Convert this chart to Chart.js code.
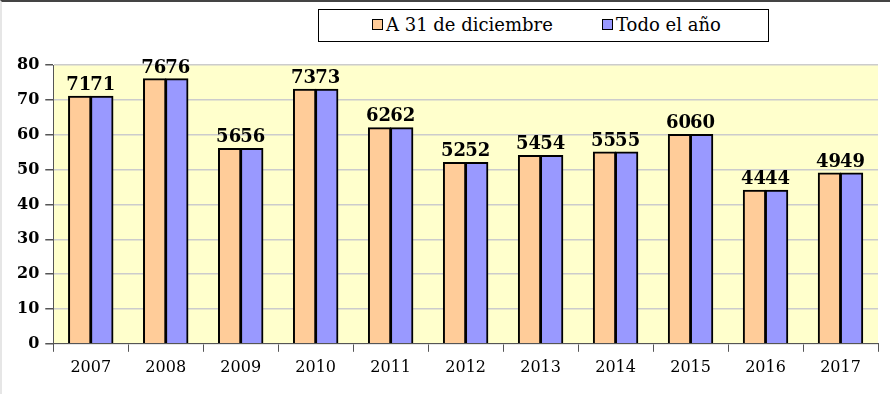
<!DOCTYPE html>
<html>
<head>
<meta charset="utf-8">
<script src="https://cdn.jsdelivr.net/npm/chart.js@4.4.1/dist/chart.umd.min.js"></script>
<style>
  html, body { margin: 0; padding: 0; background: #fff; overflow: hidden; }
  #wrap { position: relative; width: 888px; height: 392px; border-top: 2px solid #444; border-left: 2px solid #e6e6e6; }
  canvas { display: block; }
  #legend {
    position: absolute; left: 316px; top: 7px; width: 449px; height: 31px;
    border: 1px solid #000; background: #fff;
    font-family: "DejaVu Serif", "Liberation Serif", serif; font-size: 18px; color: #000;
  }
  .item { position: absolute; top: 4px; line-height: 22px; white-space: nowrap; }
  .sw { display: inline-block; width: 9px; height: 9px; border: 1.5px solid #000; margin-right: 3px; vertical-align: 1px; }
</style>
</head>
<body>
<div id="wrap">
  <canvas id="chart" width="888" height="392"></canvas>
  <div id="legend"></div>
</div>
<script>
const years = ["2007", "2008", "2009", "2010", "2011", "2012", "2013", "2014", "2015", "2016", "2017"];
const atDec31 = [71, 76, 56, 73, 62, 52, 54, 55, 60, 44, 49];
const wholeYear = [71, 76, 56, 73, 62, 52, 54, 55, 60, 44, 49];
const yTicks = [0, 10, 20, 30, 40, 50, 60, 70, 80];
const seriesNames = ["A 31 de diciembre", "Todo el año"];
const seriesColors = ["#FFCC99", "#9999FF"];

const FONT = "'DejaVu Serif', 'Liberation Serif', serif";

// legend (html, framed like the original)
const legend = document.getElementById("legend");
const itemLeft = [53, 283];
seriesNames.forEach((name, i) => {
  const it = document.createElement("div");
  it.className = "item";
  it.style.left = itemLeft[i] + "px";
  it.innerHTML = `<span class="sw" style="background:${seriesColors[i]}"></span>`;
  it.appendChild(document.createTextNode(name));
  legend.appendChild(it);
});

// yellow plot background
const plotBg = {
  id: "plotBg",
  beforeDraw(chart) {
    const { ctx, chartArea: a } = chart;
    ctx.save();
    ctx.fillStyle = "#FFFFCC";
    ctx.fillRect(a.left, a.top, a.right - a.left, a.bottom - a.top);
    ctx.restore();
  }
};

// value labels above the bars
const valueLabels = {
  id: "valueLabels",
  afterDraw(chart) {
    const ctx = chart.ctx;
    ctx.save();
    ctx.font = "bold 18px " + FONT;
    ctx.fillStyle = "#000";
    ctx.textAlign = "center";
    ctx.textBaseline = "bottom";
    chart.data.datasets.forEach((ds, i) => {
      chart.getDatasetMeta(i).data.forEach((bar, j) => {
        const dx = i === 0 ? -1 : 1;
        ctx.fillText(String(ds.data[j]), bar.x + dx, bar.y - 2);
      });
    });
    ctx.restore();
  }
};

new Chart(document.getElementById("chart"), {
  type: "bar",
  data: {
    labels: years,
    datasets: [
      {
        label: seriesNames[0],
        data: atDec31,
        backgroundColor: seriesColors[0],
        borderColor: "#000",
        borderWidth: 2,
        inflateAmount: 0.6,
        barPercentage: 1,
        categoryPercentage: 0.59
      },
      {
        label: seriesNames[1],
        data: wholeYear,
        backgroundColor: seriesColors[1],
        borderColor: "#000",
        borderWidth: 2,
        inflateAmount: 0.6,
        barPercentage: 1,
        categoryPercentage: 0.59
      }
    ]
  },
  options: {
    responsive: false,
    animation: false,
    devicePixelRatio: 1,
    layout: { padding: { top: 63, right: 12, left: 9, bottom: 11 } },
    plugins: {
      legend: { display: false },
      tooltip: { enabled: false }
    },
    scales: {
      x: {
        offset: true,
        grid: { display: true, drawOnChartArea: false, offset: true, color: "#555", tickLength: 8 },
        border: { color: "#555", width: 1 },
        ticks: { color: "#000", font: { family: FONT, size: 16 }, padding: 6, maxRotation: 0, autoSkip: false }
      },
      y: {
        min: 0,
        max: 80,
        afterBuildTicks(axis) { axis.ticks = yTicks.map(v => ({ value: v })); },
        grid: { color: "#cccccc", lineWidth: 1.5, tickLength: 8, tickColor: "#555" },
        border: { color: "#555", width: 1 },
        ticks: { color: "#000", font: { family: FONT, size: 16, weight: "bold" }, padding: 6 }
      }
    }
  },
  plugins: [plotBg, valueLabels]
});
</script>
</body>
</html>
